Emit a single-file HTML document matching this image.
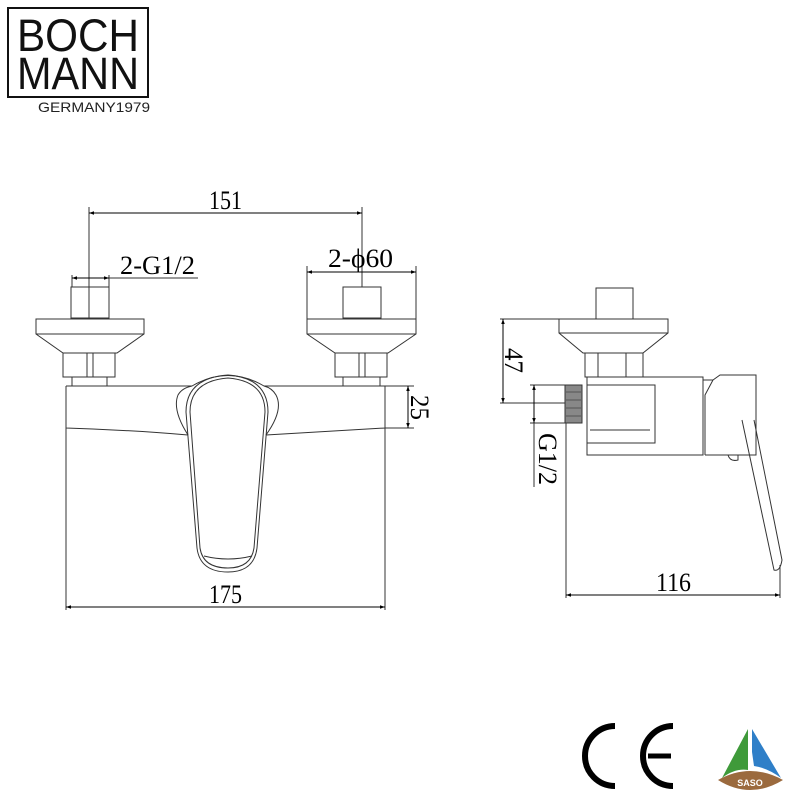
<!DOCTYPE html>
<html><head><meta charset="utf-8"><style>
html,body{margin:0;padding:0;background:#fff;width:800px;height:800px;overflow:hidden}
svg{display:block}
</style></head><body>
<svg width="800" height="800" viewBox="0 0 800 800" xmlns="http://www.w3.org/2000/svg">
<defs>
<marker id="a" viewBox="0 0 10 10" refX="10" refY="5" markerWidth="9" markerHeight="5" orient="auto-start-reverse" markerUnits="userSpaceOnUse"><path d="M0,1.5 L10,5 L0,8.5 z" fill="#000"/></marker>
</defs>
<!-- Logo -->
<rect x="8" y="8" width="140" height="89" fill="none" stroke="#111" stroke-width="2"/>
<text x="78" y="51" font-family="Liberation Sans, sans-serif" font-size="45" text-anchor="middle" fill="#111" textLength="122" lengthAdjust="spacingAndGlyphs">BOCH</text>
<text x="78" y="89" font-family="Liberation Sans, sans-serif" font-size="45" text-anchor="middle" fill="#111" textLength="122" lengthAdjust="spacingAndGlyphs">MANN</text>
<text x="94" y="112" font-family="Liberation Sans, sans-serif" font-size="14" text-anchor="middle" fill="#222" textLength="112" lengthAdjust="spacingAndGlyphs">GERMANY1979</text>

<g fill="none" stroke="#333" stroke-width="1">
<!-- Front view left valve -->
<rect x="71" y="287" width="38" height="31"/>
<path d="M36,319 H144 V334 L117,353 H63 L36,334 Z M36,334 H144"/>
<rect x="63" y="353" width="52" height="24"/><path d="M87,353 V377 M93,353 V377"/>
<path d="M72,377 V386 M107,377 V386"/>
<!-- right valve -->
<rect x="343" y="287" width="38" height="31"/>
<path d="M307,319 H416 V334 L388,353 H335 L307,334 Z M307,334 H416"/>
<rect x="335" y="353" width="52" height="24"/><path d="M359,353 V377 M365,353 V377"/>
<path d="M343,377 V386 M380,377 V386"/>
<!-- body -->
<path d="M66,386 H192 Q228,365 264,386 H385 V428 Q320,432 266,435 M66,386 V428 Q130,430 188,435"/>
<path d="M188,435 Q172,410 178,395 Q182,388 192,386 M266,435 Q284,410 276,395 Q272,388 264,386"/>
<!-- lever -->
<path d="M228,375 Q186,378 186,412 L197,548 Q200,572 228,572 Q254,572 257,548 L268,412 Q268,378 228,375 Z"/>
<path d="M228,378 Q190,381 190,412 L200,548 Q203,568 228,568 Q251,568 254,548 L265,412 Q265,381 228,378 Z"/>
<path d="M204,556 Q228,562 252,556"/>
<!-- extension lines -->
<path d="M66,428 V610 M385,428 V610 M89,207 V318 M362,207 V287 M72,275 V287 M109,275 V287 M307,266 V319 M416,266 V319 M385,386 H414 M385,428 H414 M109,278 H198"/>
<!-- Side view -->
<rect x="596" y="288" width="37" height="31"/>
<path d="M559,319 H668 V333 L643,353 H583 L559,333 Z M559,333 H668"/>
<rect x="585" y="353" width="58" height="24"/><path d="M598,353 V377 M626,353 V377"/>
<path d="M587,377 H703 V455 H587 Z"/>
<path d="M587,385 H655 V443 H587 M590,430 H650"/>
<path d="M582,385 V423"/>
<path d="M703,380 H713 L705,395 V455 M713,380 L720,375 H756 V455 H705 M728,455 Q730,462 738,460 V455"/>
<path d="M742,420 L774,570 Q780,572 782,560 L754,420"/>
<path d="M500,319 H560 M500,403 H565 M530,385 H565 M530,423 H565 M566,423 V598 M780,565 V598 M534,423 V487"/>
</g>
<rect x="565" y="385" width="17" height="38" fill="#888" stroke="#333"/>
<path d="M566,392 H581 M566,400 H581 M566,408 H581 M566,416 H581" stroke="#555" stroke-width="1"/>

<!-- dimension lines -->
<g stroke="#000" stroke-width="1" fill="none">
<line x1="89" y1="213" x2="362" y2="213" marker-start="url(#a)" marker-end="url(#a)"/>
<line x1="72" y1="278" x2="109" y2="278" marker-start="url(#a)" marker-end="url(#a)"/>
<line x1="307" y1="272" x2="416" y2="272" marker-start="url(#a)" marker-end="url(#a)"/>
<line x1="66" y1="607" x2="385" y2="607" marker-start="url(#a)" marker-end="url(#a)"/>
<line x1="408" y1="386" x2="408" y2="428" marker-start="url(#a)" marker-end="url(#a)"/>
<line x1="503" y1="319" x2="503" y2="403" marker-start="url(#a)" marker-end="url(#a)"/>
<line x1="534" y1="385" x2="534" y2="423" marker-start="url(#a)" marker-end="url(#a)"/>
<line x1="566" y1="595" x2="780" y2="595" marker-start="url(#a)" marker-end="url(#a)"/>
</g>
<g font-family="Liberation Serif, serif" font-size="26" fill="#000" lengthAdjust="spacingAndGlyphs">
<text x="209" y="209" textLength="33" lengthAdjust="spacingAndGlyphs">151</text>
<text x="120" y="274" textLength="75" lengthAdjust="spacingAndGlyphs">2-G1/2</text>
<text x="328" y="267" textLength="65" lengthAdjust="spacingAndGlyphs">2-ϕ60</text>
<text x="209" y="603" textLength="33" lengthAdjust="spacingAndGlyphs">175</text>
<text x="656" y="591" textLength="35" lengthAdjust="spacingAndGlyphs">116</text>
<text transform="translate(411,395) rotate(90)" textLength="25" lengthAdjust="spacingAndGlyphs">25</text>
<text transform="translate(505,348) rotate(90)" textLength="25" lengthAdjust="spacingAndGlyphs">47</text>
<text transform="translate(539,433) rotate(90)" textLength="52" lengthAdjust="spacingAndGlyphs">G1/2</text>
</g>
<!-- CE -->
<path d="M615,726 A30,30 0 0 0 615,786" fill="none" stroke="#000" stroke-width="6"/>
<path d="M673,726 A30,30 0 0 0 673,786" fill="none" stroke="#000" stroke-width="6"/>
<line x1="648" y1="756" x2="671" y2="756" stroke="#000" stroke-width="5"/>
<!-- SASO -->
<path d="M748,729 L722,778 Q735,768 748,770 L748,752 Z" fill="#3f9a3a"/>
<path d="M752,729 L781,778 Q768,768 754,766 L752,752 Z" fill="#2f7fc8"/>
<path d="M718,780 Q750,762 783,780 Q750,800 718,780 Z" fill="#9b6a3e"/>
<text x="750" y="786" font-family="Liberation Sans, sans-serif" font-size="9" font-weight="bold" fill="#fff" text-anchor="middle">SASO</text>
</svg>
</body></html>
